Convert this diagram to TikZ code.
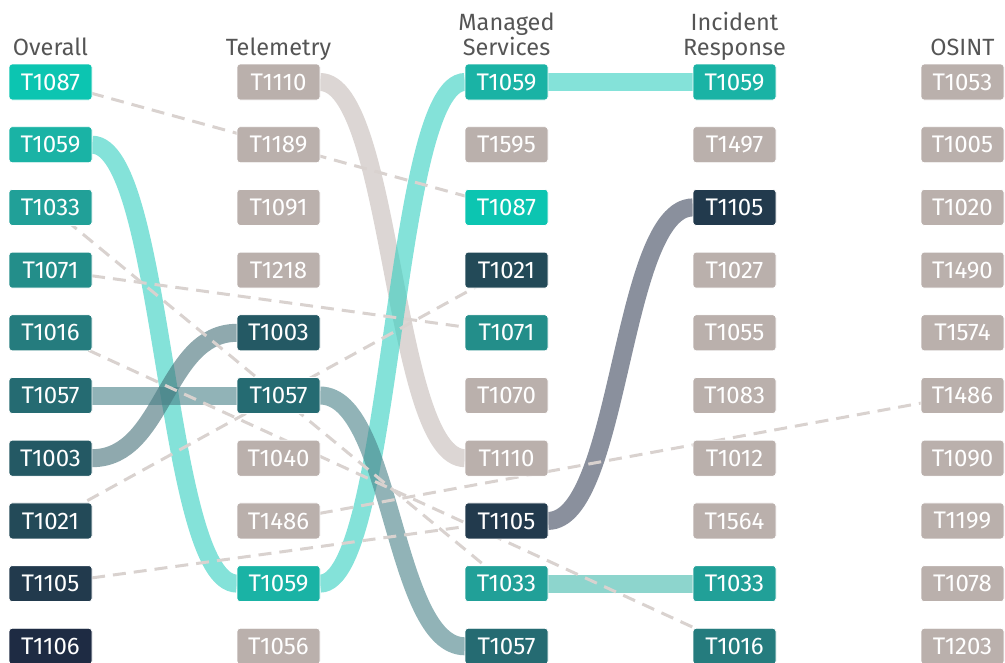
\documentclass[tikz,border=0pt]{standalone}
\usepackage{fontspec}
\setmainfont{Fira Sans}
\definecolor{c1087}{HTML}{0CC5B1}
\definecolor{c1059}{HTML}{1AB3A5}
\definecolor{c1033}{HTML}{21A098}
\definecolor{c1071}{HTML}{238E8A}
\definecolor{c1016}{HTML}{257C7E}
\definecolor{c1057}{HTML}{256B72}
\definecolor{c1003}{HTML}{245964}
\definecolor{c1021}{HTML}{234A58}
\definecolor{c1105}{HTML}{223A4D}
\definecolor{c1106}{HTML}{1E2B43}
\definecolor{cgray}{HTML}{BAB0AC}
\definecolor{bd1059}{HTML}{32CFC0}
\definecolor{bd1110}{HTML}{C5BBB7}
\definecolor{bd1057}{HTML}{488087}
\definecolor{bd1003}{HTML}{447078}
\definecolor{bd1105}{HTML}{3C465C}
\definecolor{bd1033}{HTML}{41B9AC}
\definecolor{dashc}{HTML}{D9D2CF}
\definecolor{headc}{HTML}{555555}
\begin{document}
\begin{tikzpicture}[x=1pt,y=-1pt,
  box/.style={rounded corners=3pt, minimum width=83pt, minimum height=36pt,
    inner sep=0pt, text=white, font=\fontsize{24}{24}\selectfont,
    draw=white, line width=0.8pt},
  head/.style={anchor=base, text=headc, font=\fontsize{23.5}{25}\selectfont, inner sep=0pt},
  band/.style={line width=18pt, opacity=0.6},
  dline/.style={draw=dashc, line width=3pt, dash pattern=on 13pt off 8pt}]
\useasboundingbox (0,0) rectangle (1005,662);
% headers
\node[head] (hO) at (50.5,55) {Overall};
\node[head] (hT) at (278.5,55) {Telemetry};
\node[head] (hM1) at (506.5,30) {Managed};
\node[head] (hM2) at (506.5,55) {Services};
\node[head] (hI1) at (734.5,30) {Incident};
\node[head] (hI2) at (734.5,55) {Response};
\node[head] (hS) at (962.5,55) {OSINT};
% box positions
\foreach \n/\x/\r in {
  oT1087/50.5/0, oT1059/50.5/1, oT1033/50.5/2, oT1071/50.5/3, oT1016/50.5/4,
  oT1057/50.5/5, oT1003/50.5/6, oT1021/50.5/7, oT1105/50.5/8, oT1106/50.5/9,
  tT1110/278.5/0, tT1189/278.5/1, tT1091/278.5/2, tT1218/278.5/3, tT1003/278.5/4,
  tT1057/278.5/5, tT1040/278.5/6, tT1486/278.5/7, tT1059/278.5/8, tT1056/278.5/9,
  mT1059/506.5/0, mT1595/506.5/1, mT1087/506.5/2, mT1021/506.5/3, mT1071/506.5/4,
  mT1070/506.5/5, mT1110/506.5/6, mT1105/506.5/7, mT1033/506.5/8, mT1057/506.5/9,
  iT1059/734.5/0, iT1497/734.5/1, iT1105/734.5/2, iT1027/734.5/3, iT1055/734.5/4,
  iT1083/734.5/5, iT1012/734.5/6, iT1564/734.5/7, iT1033/734.5/8, iT1016/734.5/9,
  sT1053/962.5/0, sT1005/962.5/1, sT1020/962.5/2, sT1490/962.5/3, sT1574/962.5/4,
  sT1486/962.5/5, sT1090/962.5/6, sT1199/962.5/7, sT1078/962.5/8, sT1203/962.5/9}
  \coordinate (p\n) at (\x, 82+62.7*\r);
% bands
\draw[band, draw=bd1110] ([xshift=41.5pt]ptT1110) .. controls +(72.5,0) and +(-72.5,0) .. ([xshift=-41.5pt]pmT1110);
\draw[band, draw=bd1059] ([xshift=41.5pt]poT1059) .. controls +(72.5,0) and +(-72.5,0) .. ([xshift=-41.5pt]ptT1059);
\draw[band, draw=bd1059] ([xshift=41.5pt]ptT1059) .. controls +(72.5,0) and +(-72.5,0) .. ([xshift=-41.5pt]pmT1059);
\draw[band, draw=bd1059] ([xshift=41.5pt]pmT1059) -- ([xshift=-41.5pt]piT1059);
\draw[band, draw=bd1003] ([xshift=41.5pt]poT1003) .. controls +(72.5,0) and +(-72.5,0) .. ([xshift=-41.5pt]ptT1003);
\draw[band, draw=bd1057] ([xshift=41.5pt]poT1057) -- ([xshift=-41.5pt]ptT1057);
\draw[band, draw=bd1057] ([xshift=41.5pt]ptT1057) .. controls +(72.5,0) and +(-72.5,0) .. ([xshift=-41.5pt]pmT1057);
\draw[band, draw=bd1105] ([xshift=41.5pt]pmT1105) .. controls +(72.5,0) and +(-72.5,0) .. ([xshift=-41.5pt]piT1105);
\draw[band, draw=bd1033] ([xshift=41.5pt]pmT1033) -- ([xshift=-41.5pt]piT1033);
% dashed links
\draw[dline] (poT1087) -- (pmT1087);
\draw[dline] (poT1033) -- (pmT1033);
\draw[dline] (poT1071) -- (pmT1071);
\draw[dline] (poT1016) -- (piT1016);
\draw[dline] (poT1021) -- (pmT1021);
\draw[dline] (poT1105) -- (pmT1105);
\draw[dline] (ptT1486) -- (psT1486);
% boxes
\foreach \n/\t/\c in {
  oT1087/T1087/c1087, oT1059/T1059/c1059, oT1033/T1033/c1033, oT1071/T1071/c1071,
  oT1016/T1016/c1016, oT1057/T1057/c1057, oT1003/T1003/c1003, oT1021/T1021/c1021,
  oT1105/T1105/c1105, oT1106/T1106/c1106,
  tT1110/T1110/cgray, tT1189/T1189/cgray, tT1091/T1091/cgray, tT1218/T1218/cgray,
  tT1003/T1003/c1003, tT1057/T1057/c1057, tT1040/T1040/cgray, tT1486/T1486/cgray,
  tT1059/T1059/c1059, tT1056/T1056/cgray,
  mT1059/T1059/c1059, mT1595/T1595/cgray, mT1087/T1087/c1087, mT1021/T1021/c1021,
  mT1071/T1071/c1071, mT1070/T1070/cgray, mT1110/T1110/cgray, mT1105/T1105/c1105,
  mT1033/T1033/c1033, mT1057/T1057/c1057,
  iT1059/T1059/c1059, iT1497/T1497/cgray, iT1105/T1105/c1105, iT1027/T1027/cgray,
  iT1055/T1055/cgray, iT1083/T1083/cgray, iT1012/T1012/cgray, iT1564/T1564/cgray,
  iT1033/T1033/c1033, iT1016/T1016/c1016,
  sT1053/T1053/cgray, sT1005/T1005/cgray, sT1020/T1020/cgray, sT1490/T1490/cgray,
  sT1574/T1574/cgray, sT1486/T1486/cgray, sT1090/T1090/cgray, sT1199/T1199/cgray,
  sT1078/T1078/cgray, sT1203/T1203/cgray}
  \node[box, fill=\c] (\n) at (p\n) {\t};
\end{tikzpicture}
\end{document}
